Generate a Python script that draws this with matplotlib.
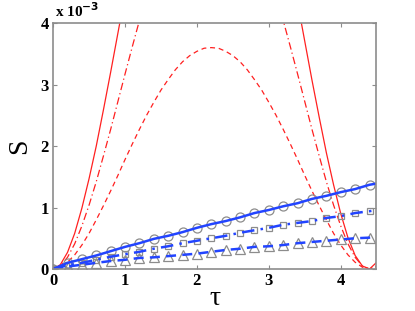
import numpy as np
import matplotlib
matplotlib.use("Agg")
import matplotlib.pyplot as plt

# ---------------------------------------------------------------------------
# DATA  (S values in units of 1e-3)
# ---------------------------------------------------------------------------
tau = np.round(np.arange(0, 4.51, 0.1), 1)

red_solid = [0.00, 0.07, 0.27, 0.58, 0.99, 1.47, 2.00, 2.59, 3.20, 3.83,
             4.46, 5.08, 5.68, 6.25, 6.79, 7.28, 7.72, 8.09, 8.41, 8.66,
             8.84, 8.94, 8.97, 8.92, 8.81, 8.61, 8.35, 8.02, 7.63, 7.18,
             6.68, 6.14, 5.56, 4.95, 4.33, 3.70, 3.07, 2.47, 1.89, 1.37,
             0.90, 0.51, 0.22, 0.05, 0.00, 0.11]

red_dashdot = [0.00, 0.05, 0.19, 0.41, 0.70, 1.04, 1.42, 1.84, 2.27, 2.72,
               3.17, 3.61, 4.04, 4.45, 4.83, 5.18, 5.50, 5.77, 6.00, 6.18,
               6.31, 6.39, 6.42, 6.39, 6.31, 6.18, 6.00, 5.77, 5.50, 5.18,
               4.83, 4.45, 4.04, 3.61, 3.17, 2.72, 2.27, 1.84, 1.42, 1.04,
               0.70, 0.41, 0.19, 0.05, 0.00, 0.05]

red_dashed = [0.00, 0.03, 0.11, 0.23, 0.39, 0.58, 0.80, 1.03, 1.27, 1.52,
              1.78, 2.03, 2.27, 2.50, 2.71, 2.91, 3.08, 3.24, 3.37, 3.47,
              3.54, 3.59, 3.60, 3.59, 3.54, 3.47, 3.37, 3.24, 3.08, 2.91,
              2.71, 2.50, 2.27, 2.03, 1.78, 1.52, 1.27, 1.03, 0.80, 0.58,
              0.39, 0.23, 0.11, 0.03, 0.00, 0.03]

tau_b = [0.0, 0.2, 0.4, 0.6, 0.8, 1.0, 1.2, 1.4, 1.6, 1.8, 2.0, 2.2,
         2.4, 2.6, 2.8, 3.0, 3.2, 3.4, 3.6, 3.8, 4.0, 4.2, 4.4, 4.5]

blue_circle = [0.00, 0.10, 0.16, 0.22, 0.29, 0.36, 0.42, 0.49, 0.54, 0.60,
               0.67, 0.73, 0.78, 0.84, 0.91, 0.96, 1.02, 1.07, 1.14, 1.19,
               1.25, 1.30, 1.37, 1.39]

blue_square = [0.00, 0.06, 0.10, 0.15, 0.20, 0.24, 0.28, 0.33, 0.37, 0.42,
               0.46, 0.50, 0.54, 0.59, 0.63, 0.67, 0.72, 0.75, 0.78, 0.83,
               0.86, 0.91, 0.94, 0.96]

blue_triangle = [0.00, 0.04, 0.07, 0.10, 0.13, 0.15, 0.18, 0.19, 0.21, 0.23,
                 0.25, 0.28, 0.31, 0.33, 0.36, 0.37, 0.39, 0.42, 0.44, 0.46,
                 0.48, 0.50, 0.51, 0.52]

xticks = [0, 1, 2, 3, 4]
yticks = [0, 1, 2, 3, 4]

# ---------------------------------------------------------------------------
# PLOT
# ---------------------------------------------------------------------------
plt.rcParams["font.family"] = ["Liberation Serif", "DejaVu Serif"]
plt.rcParams["font.weight"] = "bold"

RED = "#ff2020"
BLUE = "#2244ff"
GRAY = "#8c8c8c"

fig = plt.figure(figsize=(4.15, 3.11), dpi=100)
ax = fig.add_axes([0.128, 0.135, 0.778, 0.791])

ax.plot(tau, red_solid, color=RED, lw=0.9, ls="-")
ax.plot(tau, red_dashdot, color=RED, lw=0.9, ls=(0, (6, 2.5, 1, 2.5)))
ax.plot(tau, red_dashed, color=RED, lw=0.9, ls=(0, (4, 3)))

# gray open markers first, blue lines on top
mk = slice(0, 23)
ax.plot(tau_b[mk], blue_circle[mk], ls="none", marker="o", ms=6.5,
        mfc="none", mec=GRAY, mew=0.9)
ax.plot(tau_b[mk], blue_square[mk], ls="none", marker="s", ms=5,
        mfc="none", mec=GRAY, mew=0.9)
ax.plot(tau_b[mk], blue_triangle[mk], ls="none", marker="^", ms=7,
        mfc="none", mec=GRAY, mew=0.9)
ax.plot(tau_b, blue_circle, color=BLUE, lw=1.8, ls="-")
ax.plot(tau_b, blue_square, color=BLUE, lw=1.8, ls=(0, (5, 2.5, 1, 2.5)))
ax.plot(tau_b, blue_triangle, color=BLUE, lw=1.8, ls=(0, (4, 2.5)))

ax.set_xlim(0, 4.49)
ax.set_ylim(0, 4)
ax.set_xticks(xticks)
ax.set_yticks(yticks)
ax.tick_params(direction="in", length=3, width=0.8, color=GRAY,
               top=True, right=True, labelsize=12, pad=3)
for s in ax.spines.values():
    s.set_color(GRAY)
    s.set_linewidth(1.2)

ax.set_xlabel("τ", fontsize=20, fontweight="normal", labelpad=-2)
ax.set_ylabel("S", fontsize=20, fontweight="normal", labelpad=6)
fig.text(0.133, 0.935, r"x 10$^{\mathbf{-3}}$", fontsize=11,
         ha="left", va="bottom")

fig.savefig("out.png", dpi=100)
